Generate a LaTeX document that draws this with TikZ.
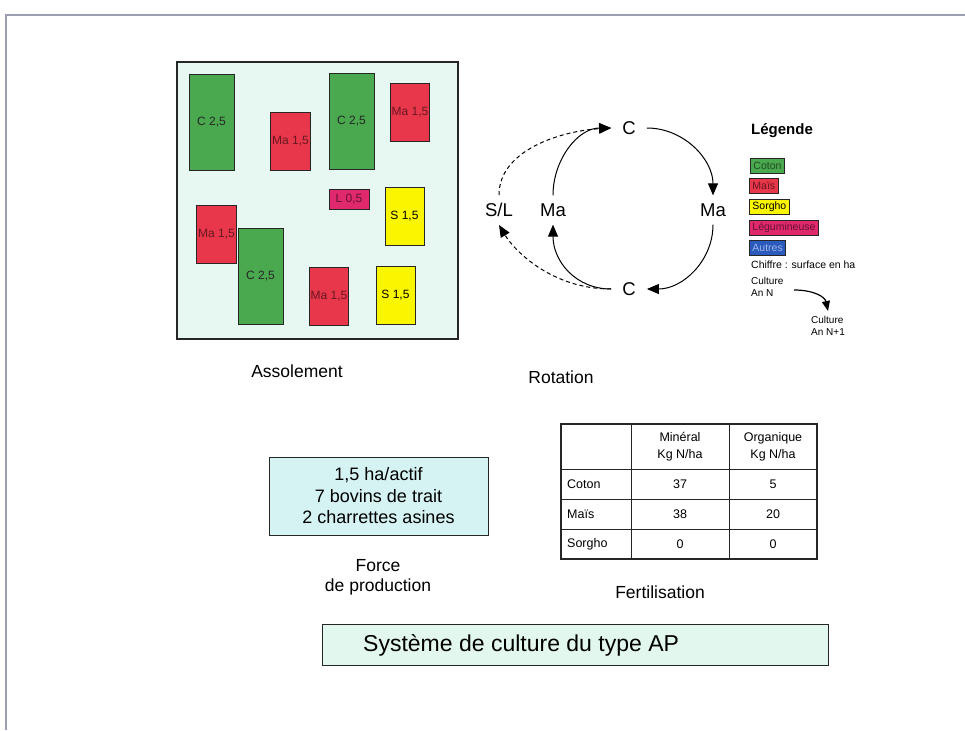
\documentclass[tikz,border=0pt]{standalone}
\usepackage{fontspec}
\setmainfont{Liberation Sans}
\usetikzlibrary{arrows.meta}

\definecolor{framecol}{RGB}{154,158,176}
\definecolor{fieldfill}{RGB}{231,247,242}
\definecolor{forcefill}{RGB}{214,243,243}
\definecolor{titlefill}{RGB}{226,247,237}
\definecolor{cgreen}{RGB}{74,168,78}
\definecolor{cred}{RGB}{232,54,74}
\definecolor{cyellow}{RGB}{250,246,0}
\definecolor{cpink}{RGB}{224,40,110}
\definecolor{cblue}{RGB}{42,90,190}

\newcommand{\fs}[2]{\fontsize{#1}{#2}\selectfont}

\tikzset{
  plot/.style={draw=black!85, line width=0.9pt, inner sep=0pt, font=\fs{12}{14}},
  cplot/.style={plot, fill=cgreen, text=black!85, minimum width=45pt, minimum height=96pt},
  mplot/.style={plot, fill=cred, text=cred!45!black, minimum width=39.5pt, minimum height=58pt},
  splot/.style={plot, fill=cyellow, text=black, minimum width=39pt, minimum height=58pt},
  lplot/.style={plot, fill=cpink, text=cpink!45!black, minimum width=40pt, minimum height=20pt},
  caption/.style={font=\fs{17.5}{20}, align=center},
  crop/.style={font=\fs{18.5}{20}, inner xsep=11pt, inner ysep=8pt},
  rot/.style={line width=1pt, -{Triangle[length=12pt,width=10pt]}},
  rotdash/.style={rot, dash pattern=on 4pt off 3pt},
  legbox/.style={draw=black!85, line width=0.9pt, anchor=west, font=\fs{10.5}{12},
    inner xsep=3pt, inner ysep=1pt, minimum height=15pt},
  legtext/.style={anchor=west, font=\fs{10}{12}, align=left, inner sep=0pt},
  cell/.style={font=\fs{12.5}{17}, align=center, inner sep=0pt},
  rowlab/.style={cell, anchor=west},
}

\begin{document}
\begin{tikzpicture}[x=1pt,y=-1pt]
\useasboundingbox (0,0) rectangle (965,730);

% page frame
\draw[framecol, line width=2pt] (6,730) -- (6,15) -- (965,15);

% ---- Assolement: field plan ----
\node[draw=black!85, line width=1.1pt, fill=fieldfill, minimum width=281pt, minimum height=277pt, inner sep=0pt] (field) at (317.5,200.5) {};
\node[cplot] (p1) at (211.5,122) {C 2,5};
\node[mplot] (p2) at (290.5,141) {Ma 1,5};
\node[cplot] (p3) at (351.5,121) {C 2,5};
\node[mplot] (p4) at (410,112) {Ma 1,5};
\node[lplot] (p5) at (349,199) {L 0,5};
\node[splot] (p6) at (404.5,216) {S 1,5};
\node[mplot] (p7) at (216.5,234) {Ma 1,5};
\node[cplot] (p8) at (260.5,276) {C 2,5};
\node[mplot] (p9) at (329,296) {Ma 1,5};
\node[splot] (p10) at (395.5,295) {S 1,5};
\node[caption] (asso) at (297,371) {Assolement};

% ---- Rotation cycle ----
\node[crop] (Ct) at (629,128) {C};
\node[crop] (Mr) at (713,210) {Ma};
\node[crop] (Cb) at (629,289) {C};
\node[crop] (Ml) at (553,210) {Ma};
\node[crop, inner xsep=4pt] (SL) at (499,210) {S/L};
\draw[rot] (Ct.east) .. controls +(37,0) and +(0,-36) .. (Mr.north);
\draw[rot] (Mr.south) .. controls +(0,36) and +(36,0) .. (Cb.east);
\draw[rot] (Cb.west) .. controls +(-36,0) and +(0,36) .. (Ml.south);
\draw[rot] (Ml.north) .. controls +(0,-36) and +(-33,0) .. (Ct.west);
\draw[rotdash] (Cb.west) .. controls +(-60,0) and +(15,25) .. (SL.south);
\draw[rotdash] (SL.north) .. controls +(0,-45) and +(-50,3) .. (Ct.west);
\node[caption] (rotlab) at (561,377) {Rotation};

% ---- Legend ----
\node[anchor=west, inner sep=0pt, font=\fs{15}{17}\bfseries] (leg) at (751,131) {Légende};
\node[legbox, fill=cgreen, text=cgreen!45!black] (lcot) at (750,166) {Coton};
\node[legbox, fill=cred, text=cred!45!black] (lmai) at (749,186) {Maïs};
\node[legbox, fill=cyellow, text=black] (lsor) at (749,206.5) {Sorgho};
\node[legbox, fill=cpink, text=cpink!45!black] (lleg) at (749,227.5) {Légumineuse};
\node[legbox, fill=cblue, text=cblue!45!white] (laut) at (749,247.5) {Autres};
\node[legtext, font=\fs{10.5}{12}] (lchif) at (751,265) {Chiffre : surface en ha};
\node[legtext, anchor=north west] (lan) at (751,277) {Culture\\An N};
\node[legtext, anchor=north west] (lan1) at (811,316) {Culture\\An N+1};
\coordinate (la) at (794,290);
\coordinate (lb) at (828,311);
\draw[line width=1.2pt, -{Triangle[length=10pt,width=8pt]}] (la) .. controls +(20,0) and +(-3,-14) .. (lb);

% ---- Fertilisation table ----
\draw[black!85, line width=0.9pt]
  (631,424) -- (631,559)
  (729,424) -- (729,559)
  (561,469) -- (817,469)
  (561,499) -- (817,499)
  (561,529) -- (817,529);
\draw[black!85, line width=1.8pt] (561,424) rectangle (817,559);
\node[cell] (hmin) at (680,446.5) {Minéral\\Kg N/ha};
\node[cell] (horg) at (773,446.5) {Organique\\Kg N/ha};
\node[rowlab] (rcot) at (567,484) {Coton};
\node[rowlab] (rmai) at (567,514) {Maïs};
\node[rowlab] (rsor) at (567,544) {Sorgho};
\node[cell] (v11) at (680,484) {37};
\node[cell] (v12) at (773,484) {5};
\node[cell] (v21) at (680,514) {38};
\node[cell] (v22) at (773,514) {20};
\node[cell] (v31) at (680,544) {0};
\node[cell] (v32) at (773,544) {0};
\node[caption] (fert) at (660,592) {Fertilisation};

% ---- Force de production ----
\node[draw=black!85, line width=1pt, fill=forcefill, minimum width=219pt, minimum height=78pt,
  align=center, font=\fs{18}{21.5}] (force) at (378.5,496) {1,5 ha/actif\\7 bovins de trait\\2 charrettes asines};
\node[caption, font=\fs{17.5}{19.5}] (forcelab) at (378,577.5) {Force\\de production};

% ---- Title ----
\node[draw=black!85, line width=1pt, fill=titlefill, minimum width=506pt, minimum height=41pt, inner sep=0pt] (titlebox) at (575,644.5) {};
\node[anchor=west, inner sep=0pt, font=\fs{23}{26}] (title) at (363,645) {Système de culture du type AP};
\end{tikzpicture}
\end{document}
